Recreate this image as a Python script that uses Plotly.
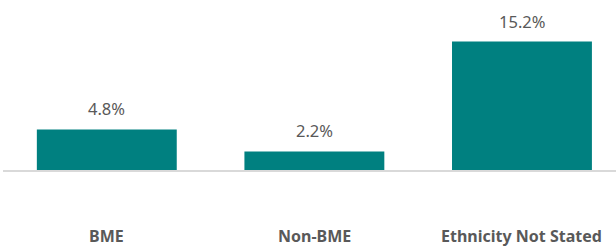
import plotly.graph_objects as go

categories = ["BME", "Non-BME", "Ethnicity Not Stated"]
values = [4.8, 2.2, 15.2]
value_labels = ["4.8%", "2.2%", "15.2%"]

BAR = "#008080"
TXT = "#595959"
FONT = "Noto Sans"

fig = go.Figure()
fig.add_trace(go.Bar(
    x=categories, y=values, width=0.674,
    marker=dict(color=BAR, line=dict(width=0)),
    hoverinfo="skip",
))

for c, v, t in zip(categories, values, value_labels):
    fig.add_annotation(x=c, y=v, xref="x", yref="y", text=t, showarrow=False,
                       yanchor="bottom", yshift=7,
                       font=dict(family=FONT, size=16.5, color=TXT))

for c in categories:
    fig.add_annotation(x=c, y=-(236 - 170) / 170, xref="x", yref="paper",
                       text="<b>%s</b>" % c, showarrow=False, yanchor="middle",
                       font=dict(family=FONT, size=16, color=TXT))

fig.update_layout(
    width=616, height=247, autosize=False,
    margin=dict(l=3, r=0, t=0, b=77, pad=0),
    paper_bgcolor="white", plot_bgcolor="white",
    showlegend=False,
    xaxis=dict(range=[-0.5, 2.453], showticklabels=False, ticks="",
               showgrid=False, zeroline=False, showline=True,
               linecolor="#d9d9d9", linewidth=1.5, fixedrange=True),
    yaxis=dict(range=[0, 170 / 8.45], visible=False, showgrid=False,
               zeroline=False, fixedrange=True),
)

fig.write_html("out.html", config={"displayModeBar": False},
               post_script="document.body.style.margin='0px';document.body.style.overflow='hidden';")
